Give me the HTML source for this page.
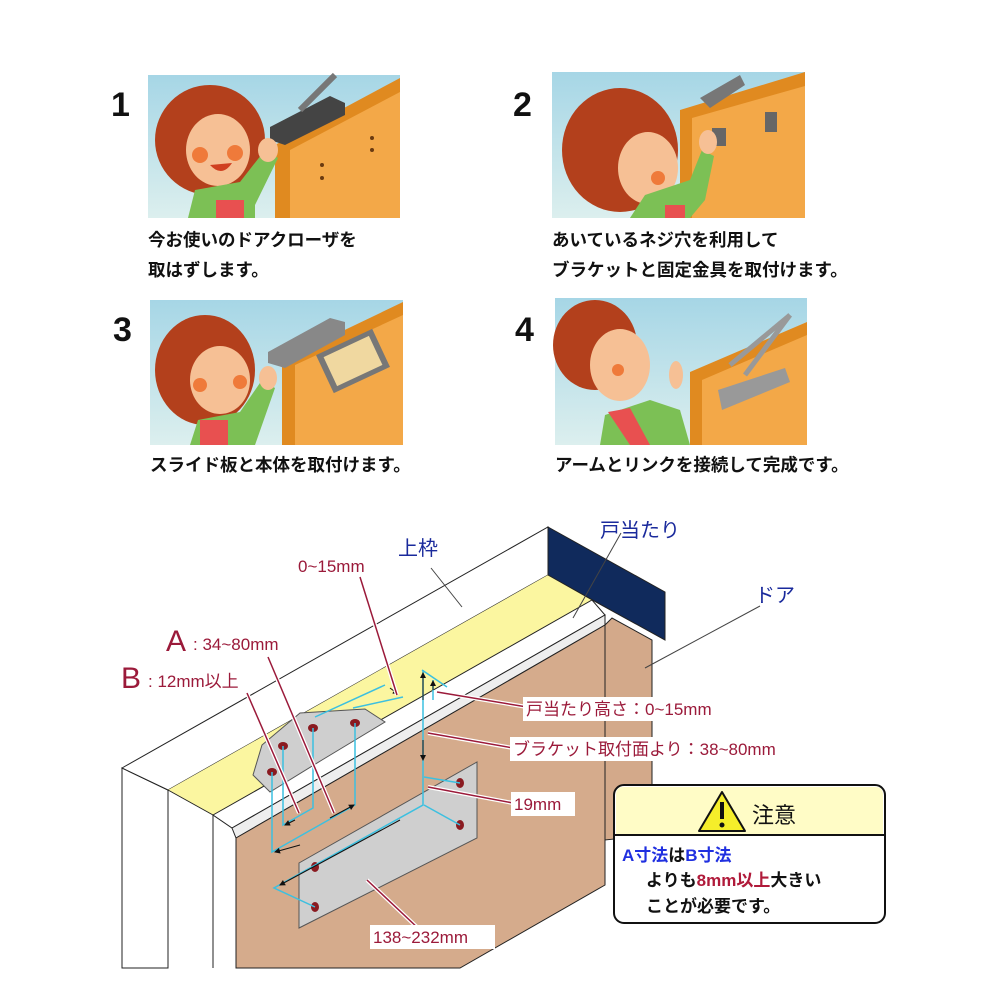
<!DOCTYPE html>
<html><head><meta charset="utf-8"><style>
html,body{margin:0;padding:0;background:#fff;}
svg{display:block;}
.cap{font-family:"Liberation Sans","Noto Sans CJK JP",sans-serif;font-weight:bold;font-size:17.5px;fill:#111;}
.num{font-family:"Liberation Sans",sans-serif;font-weight:bold;font-size:34px;fill:#111;}
.lb{font-family:"Liberation Sans","Noto Sans CJK JP",sans-serif;font-size:17px;fill:#9b1a3a;}
.bl{font-family:"Liberation Sans","Noto Sans CJK JP",sans-serif;font-size:20px;fill:#1a2a9c;}
</style></head><body>
<svg width="1000" height="1000" viewBox="0 0 1000 1000" xmlns="http://www.w3.org/2000/svg">
<defs>
<linearGradient id="sky" x1="0" y1="0" x2="0" y2="1"><stop offset="0" stop-color="#a6d6e6"/><stop offset="1" stop-color="#dcefee"/></linearGradient>
<marker id="ar" markerWidth="6" markerHeight="6" refX="5" refY="3" orient="auto"><path d="M0,0 L6,3 L0,6z" fill="#111"/></marker>
</defs>
<rect width="1000" height="1000" fill="#fff"/>

<!-- Panel 1 -->
<g>
<rect x="148" y="75" width="252" height="143" fill="url(#sky)"/>
<polygon points="275,145 400,78 400,218 275,218" fill="#e08a20"/>
<polygon points="290,150 400,92 400,218 290,218" fill="#f3a848"/>
<circle cx="322" cy="165" r="2" fill="#6a3a10"/><circle cx="322" cy="178" r="2" fill="#6a3a10"/>
<circle cx="372" cy="138" r="2" fill="#6a3a10"/><circle cx="372" cy="150" r="2" fill="#6a3a10"/>
<polygon points="270,127 330,96 345,103 345,115 285,145 270,140" fill="#444"/>
<line x1="300" y1="110" x2="335" y2="75" stroke="#777" stroke-width="6"/>
<ellipse cx="210" cy="140" rx="55" ry="55" fill="#b3401c"/>
<ellipse cx="218" cy="150" rx="32" ry="36" fill="#f6c095"/>
<circle cx="200" cy="155" r="8" fill="#ef7a3a"/><circle cx="235" cy="153" r="8" fill="#ef7a3a"/>
<path d="M210,165 Q222,178 232,163 Z" fill="#d04020"/>
<path d="M188,218 L195,190 L240,182 L265,150 L278,158 L255,205 L255,218Z" fill="#7cc055"/>
<rect x="216" y="200" width="28" height="18" fill="#e85050"/>
<ellipse cx="268" cy="150" rx="10" ry="12" fill="#f6c095"/>
</g>
<text class="num" x="111" y="116">1</text>
<text class="cap" x="148" y="246">今お使いのドアクローザを</text>
<text class="cap" x="148" y="276">取はずします。</text>

<!-- Panel 2 -->
<g>
<rect x="552" y="72" width="253" height="146" fill="url(#sky)"/>
<polygon points="680,110 805,72 805,218 680,218" fill="#e08a20"/>
<polygon points="692,118 805,86 805,218 692,218" fill="#f3a848"/>
<rect x="712" y="128" width="14" height="18" fill="#666"/>
<rect x="765" y="112" width="12" height="20" fill="#666"/>
<path d="M700,98 L740,75 L745,85 L710,108Z" fill="#777"/>
<ellipse cx="620" cy="150" rx="58" ry="62" fill="#b3401c"/>
<ellipse cx="648" cy="168" rx="30" ry="36" fill="#f6c095"/>
<circle cx="658" cy="178" r="7" fill="#ef7a3a"/>
<path d="M630,218 L645,195 L690,180 L702,150 L714,156 L705,200 L690,218Z" fill="#7cc055"/>
<rect x="665" y="205" width="20" height="13" fill="#e85050"/>
<ellipse cx="708" cy="142" rx="9" ry="12" fill="#f6c095"/>
</g>
<text class="num" x="513" y="116">2</text>
<text class="cap" x="552" y="246">あいているネジ穴を利用して</text>
<text class="cap" x="552" y="276">ブラケットと固定金具を取付けます。</text>

<!-- Panel 3 -->
<g>
<rect x="150" y="300" width="253" height="145" fill="url(#sky)"/>
<polygon points="282,360 403,302 403,445 282,445" fill="#e08a20"/>
<polygon points="295,365 403,315 403,445 295,445" fill="#f3a848"/>
<polygon points="268,352 330,318 345,322 345,335 285,368 268,363" fill="#888"/>
<rect x="322" y="340" width="62" height="42" fill="#777" transform="rotate(-25 353 361)"/>
<rect x="328" y="345" width="50" height="32" fill="#f0d8a0" transform="rotate(-25 353 361)"/>
<ellipse cx="205" cy="370" rx="50" ry="55" fill="#b3401c"/>
<ellipse cx="220" cy="380" rx="30" ry="34" fill="#f6c095"/>
<circle cx="200" cy="385" r="7" fill="#ef7a3a"/><circle cx="240" cy="382" r="7" fill="#ef7a3a"/>
<path d="M190,445 L198,420 L240,412 L262,380 L275,388 L255,445Z" fill="#7cc055"/>
<rect x="200" y="420" width="28" height="25" fill="#e85050"/>
<ellipse cx="268" cy="378" rx="9" ry="12" fill="#f6c095"/>
</g>
<text class="num" x="113" y="341">3</text>
<text class="cap" x="150" y="471">スライド板と本体を取付けます。</text>

<!-- Panel 4 -->
<g>
<rect x="555" y="298" width="252" height="147" fill="url(#sky)"/>
<polygon points="690,372 807,322 807,445 690,445" fill="#e08a20"/>
<polygon points="702,380 807,335 807,445 702,445" fill="#f3a848"/>
<polygon points="718,390 785,368 790,382 722,410" fill="#999"/>
<line x1="730" y1="365" x2="790" y2="315" stroke="#999" stroke-width="5"/>
<line x1="745" y1="375" x2="790" y2="315" stroke="#999" stroke-width="5"/>
<ellipse cx="595" cy="345" rx="42" ry="45" fill="#b3401c"/>
<ellipse cx="620" cy="365" rx="30" ry="36" fill="#f6c095"/>
<circle cx="618" cy="370" r="6" fill="#ef7a3a"/>
<path d="M600,445 L605,415 L650,400 L680,410 L690,445Z" fill="#7cc055"/>
<path d="M608,412 L630,408 L650,445 L630,445Z" fill="#e85050"/>
<ellipse cx="676" cy="375" rx="7" ry="14" fill="#f6c095"/>
</g>
<text class="num" x="515" y="341">4</text>
<text class="cap" x="555" y="471">アームとリンクを接続して完成です。</text>

<!-- Bottom diagram -->
<g stroke="#222" stroke-width="1">
<!-- frame left side -->
<polygon points="122,768 168,790 168,968 122,968" fill="#fff"/>
<line x1="213" y1="815" x2="213" y2="968"/>
<!-- frame face -->
<polygon points="122,768 548,527 548,575 168,790" fill="#fff"/>
<!-- yellow underside -->
<polygon points="168,790 548,575 592,600 213,815" fill="#fbf6a0" stroke="none"/>
<line x1="168" y1="790" x2="213" y2="815"/>
<!-- navy stop -->
<polygon points="548,527 665,592 665,640 596,602 548,575" fill="#102a5c"/>
<!-- door stop white strip -->
<polygon points="213,815 592,600 605,615 232,828" fill="#fff"/>
<polygon points="232,828 605,615 605,625 236,838" fill="#eee"/>
<!-- door face -->
<polygon points="236,838 605,625 605,885 460,968 236,968" fill="#d5ab8c"/>
<!-- door edge -->
<polygon points="605,625 612,618 652,640 652,835 605,840" fill="#d3a98a"/>
<line x1="213" y1="815" x2="213" y2="968"/>
</g>
<!-- bracket plate upper -->
<polygon points="253,775 262,745 300,713 365,709 385,722 322,760 270,792" fill="#cfcfcf" stroke="#555" stroke-width="1"/>
<!-- lower plate -->
<polygon points="299,863 477,762 477,838 299,928" fill="#cfcfcf" stroke="#555" stroke-width="1"/>
<!-- holes -->
<g fill="#8a1a20">
<ellipse cx="313" cy="728" rx="5" ry="4"/><ellipse cx="355" cy="723" rx="5" ry="4"/>
<ellipse cx="283" cy="746" rx="5" ry="4"/><ellipse cx="272" cy="772" rx="5" ry="4"/>
<ellipse cx="460" cy="783" rx="4" ry="5"/><ellipse cx="460" cy="825" rx="4" ry="5"/>
<ellipse cx="315" cy="867" rx="4" ry="5"/><ellipse cx="315" cy="907" rx="4" ry="5"/>
</g>
<!-- blue dimension lines -->
<g stroke="#3cc0e0" stroke-width="1.5" fill="none">
<polyline points="272,772 272,852 355,805 355,723"/>
<polyline points="283,746 283,825 313,808 313,728"/>
<polyline points="315,717 385,685"/><polyline points="353,708 403,697"/>
<polyline points="423,670 423,805 274,888 315,907"/>
<polyline points="424,777 460,783"/><polyline points="424,805 460,825"/>
<polyline points="422,670 447,687"/><polyline points="433,680 433,700"/>
</g>
<g stroke="#111" stroke-width="1" marker-end="url(#ar)">
<line x1="423" y1="700" x2="423" y2="673"/><line x1="423" y1="740" x2="423" y2="760"/>
<line x1="300" y1="845" x2="275" y2="852"/><line x1="330" y1="818" x2="354" y2="805"/>
<line x1="295" y1="820" x2="285" y2="825"/><line x1="400" y1="820" x2="280" y2="885"/>
<line x1="390" y1="688" x2="398" y2="694"/><line x1="433" y1="690" x2="433" y2="681"/>
</g>
<!-- leaders red -->
<g stroke="#fff" stroke-width="4" fill="none">
<line x1="360" y1="577" x2="397" y2="695"/><line x1="268" y1="657" x2="334" y2="813"/>
<line x1="247" y1="693" x2="299" y2="813"/><line x1="437" y1="692" x2="527" y2="707"/>
<line x1="428" y1="733" x2="513" y2="748"/><line x1="428" y1="787" x2="513" y2="803"/>
<line x1="367" y1="880" x2="420" y2="930"/>
</g>
<g stroke="#9b1a3a" stroke-width="1.5" fill="none">
<line x1="360" y1="577" x2="397" y2="695"/><line x1="268" y1="657" x2="334" y2="813"/>
<line x1="247" y1="693" x2="299" y2="813"/><line x1="437" y1="692" x2="527" y2="707"/>
<line x1="428" y1="733" x2="513" y2="748"/><line x1="428" y1="787" x2="513" y2="803"/>
<line x1="367" y1="880" x2="420" y2="930"/>
</g>
<!-- gray leaders -->
<g stroke="#444" stroke-width="1">
<line x1="431" y1="568" x2="462" y2="607"/>
<line x1="621" y1="533" x2="573" y2="618"/>
<line x1="760" y1="606" x2="645" y2="668"/>
</g>
<!-- labels -->
<text class="lb" x="298" y="572">0~15mm</text>
<text x="166" y="651" style="font-family:'Liberation Sans',sans-serif;font-size:30px;fill:#9b1a3a">A</text>
<text class="lb" x="193" y="650">: 34~80mm</text>
<text x="121" y="688" style="font-family:'Liberation Sans',sans-serif;font-size:30px;fill:#9b1a3a">B</text>
<text class="lb" x="148" y="687">: 12mm以上</text>
<rect x="523" y="697" width="215" height="24" fill="#fff"/>
<text class="lb" x="526" y="715">戸当たり高さ：0~15mm</text>
<rect x="510" y="737" width="298" height="24" fill="#fff"/>
<text class="lb" x="513" y="755">ブラケット取付面より：38~80mm</text>
<rect x="511" y="792" width="64" height="24" fill="#fff"/>
<text class="lb" x="514" y="810">19mm</text>
<rect x="370" y="925" width="125" height="24" fill="#fff"/>
<text class="lb" x="373" y="943">138~232mm</text>
<text class="bl" x="398" y="555">上枠</text>
<text class="bl" x="600" y="537">戸当たり</text>
<text class="bl" x="755" y="602">ドア</text>

<!-- caution box -->
<rect x="614" y="785" width="271" height="138" rx="10" fill="#fff" stroke="#111" stroke-width="2"/>
<path d="M616,834 L616,795 Q616,787 624,787 L875,787 Q883,787 883,795 L883,834Z" fill="#fffcc6"/>
<line x1="615" y1="835" x2="884" y2="835" stroke="#111" stroke-width="2"/>
<polygon points="722,792 745,831 699,831" fill="#f5ee2a" stroke="#111" stroke-width="2" stroke-linejoin="round"/>
<rect x="720" y="802" width="4" height="17" fill="#111"/><circle cx="722" cy="825" r="2.5" fill="#111"/>
<text x="752" y="823" style="font-family:'Liberation Sans','Noto Sans CJK JP',sans-serif;font-size:22px;fill:#111">注意</text>
<text x="622" y="861" style="font-family:'Liberation Sans','Noto Sans CJK JP',sans-serif;font-size:17px;font-weight:bold;fill:#2030e0">A寸法<tspan fill="#111">は</tspan>B寸法</text>
<text x="646" y="886" style="font-family:'Liberation Sans','Noto Sans CJK JP',sans-serif;font-size:17px;font-weight:bold;fill:#111">よりも<tspan fill="#b01a3a">8mm以上</tspan>大きい</text>
<text x="646" y="912" style="font-family:'Liberation Sans','Noto Sans CJK JP',sans-serif;font-size:17px;font-weight:bold;fill:#111">ことが必要です。</text>
</svg>
</body></html>
